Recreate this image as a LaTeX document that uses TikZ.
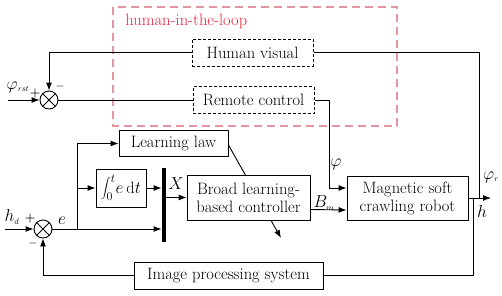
\documentclass[tikz,border=0pt]{standalone}
\usepackage{fontspec}
\usetikzlibrary{arrows.meta,calc}
\definecolor{hilred}{RGB}{235,35,60}
\definecolor{hilpink}{RGB}{228,150,160}
\begin{document}
\begin{tikzpicture}[x=1pt,y=-1pt,
  font=\fontsize{16.5}{19}\selectfont,
  line width=0.9pt,
  blk/.style={draw, fill=white, inner sep=0pt, align=center},
  dblk/.style={draw, fill=white, inner sep=0pt, dash pattern=on 3pt off 2pt, line width=1pt},
  sumj/.style={draw, circle, minimum size=18pt, inner sep=0pt,
    path picture={\draw (path picture bounding box.north west) -- (path picture bounding box.south east)
      (path picture bounding box.north east) -- (path picture bounding box.south west);}},
  arr/.style={-{Latex[length=8pt,width=6pt]}},
  sgn/.style={font=\fontsize{12}{12}\selectfont\bfseries, inner sep=0pt},
  lbl/.style={inner sep=0pt}]
\useasboundingbox (0,0) rectangle (502,295);
% human-in-the-loop frame
\draw[hilpink, line width=1.3pt, dash pattern=on 8pt off 5pt] (113,7) rectangle (397,126);
\node[anchor=west, text=hilred, inner sep=0pt] (hitl) at (125,21) {human-in-the-loop};
% blocks
\node[dblk, minimum width=121pt, minimum height=27pt] (hv) at (252.5,52.5) {Human visual};
\node[dblk, minimum width=121pt, minimum height=27pt] (rc) at (253.5,100) {Remote control};
\node[sumj] (s1) at (49,100) {};
\node[sumj] (s2) at (43,229) {};
\node[blk, minimum width=109pt, minimum height=26pt] (ll) at (173.5,143.5) {Learning law};
\node[blk, minimum width=50pt, minimum height=38pt] (int) at (121,188) {$\displaystyle\int_0^t\! e\,\mathrm{d}t$};
\node[fill, minimum width=4pt, minimum height=74pt, inner sep=0pt] (bar) at (164,205) {};
\coordinate (adj) at (281,238);
\draw[arr] ([yshift=-1.5pt]ll.east) -- (adj);
\node[blk, minimum width=123pt, minimum height=45pt] (bl) at (248.5,197.5) {Broad learning-\\[-1pt]based controller};
\node[blk, minimum width=121pt, minimum height=44pt] (rob) at (407.5,198) {Magnetic soft\\[-1pt]crawling robot};
\node[blk, minimum width=189pt, minimum height=27pt] (img) at (228.5,275.5) {Image processing system};
% coordinates
\coordinate (in1) at (8,100);
\coordinate (in2) at (5,229);
\coordinate (br) at (77,229);
\coordinate (c1) at (479,198);
\coordinate (fb) at (473,198);
\coordinate (out) at (491,198);
% connectors
\draw[arr] (in1) -- (s1.west);
\draw[arr] (hv.west) -| (s1.north);
\draw (s1.east) -- (rc.west);
\draw (hv.east) -| (c1);
\draw[arr] (rc.east) -- ++(15,0) |- ([yshift=10pt]rob.west);
\draw[arr] ([yshift=-12pt]bl.east) -- ([yshift=-12pt]rob.west);
\draw[arr] (rob.east) -- (out);
\draw (fb) |- (img.east);
\draw[arr] (img.west) -| (s2.south);
\draw[arr] (in2) -- (s2.west);
\draw[arr] (s2.east) -- (bar.west |- s2);
\draw[arr] (br) |- (ll.west);
\draw[arr] (br |- int) -- (int.west);
\draw[arr] (int.east) -- (bar.west |- int);
\draw[arr] (bar.east |- bl) -- (bl.west);
% labels
\node[lbl] (lphirst) at (18,87) {$\varphi_{\scriptscriptstyle rst}$};
\node[sgn] (p1) at (35,94) {+};
\node[sgn] (m1) at (60,86) {$-$};
\node[lbl] (lhd) at (12,217) {$h_{\scriptscriptstyle d}$};
\node[sgn] (p2) at (30,218) {+};
\node[sgn] (m2) at (33,243) {$-$};
\node[lbl] (le) at (62,221) {$e$};
\node[lbl] (lX) at (176,184) {$X$};
\node[lbl] (lphi) at (336,164) {$\varphi$};
\node[lbl] (lBm) at (324,203) {$B_{\scriptscriptstyle m}$};
\node[lbl] (lphir) at (491,177) {$\varphi_{\scriptscriptstyle r}$};
\node[lbl] (lh) at (482,211) {$h$};
\end{tikzpicture}
\end{document}
